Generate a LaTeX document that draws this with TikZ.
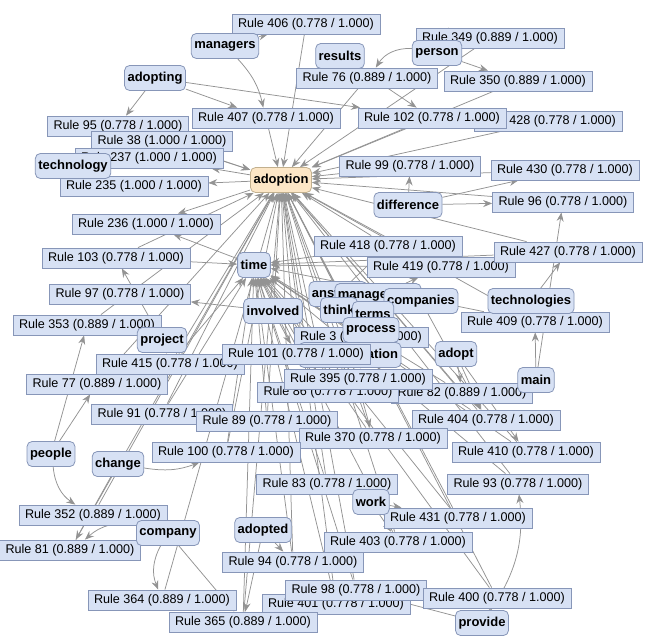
\documentclass[tikz,border=0pt]{standalone}
\usepackage{fontspec}
\setmainfont{Liberation Sans}
\usetikzlibrary{arrows.meta}
\pgfdeclarelayer{edges}
\pgfdeclarelayer{paper}
\pgfsetlayers{paper,edges,main}
\definecolor{rfill}{HTML}{D7E1F4}
\definecolor{rdraw}{HTML}{8796B8}
\definecolor{afill}{HTML}{FCE6C6}
\definecolor{adraw}{HTML}{C2B08E}
\definecolor{ecol}{HTML}{939393}
\tikzset{
 rulebox/.style={draw=rdraw, fill=rfill, line width=0.8pt, inner xsep=6pt, inner ysep=0pt, minimum height=20pt, font=\fontsize{12.6}{14}\selectfont},
 wordbox/.style={draw=rdraw, fill=rfill, rounded corners=5pt, line width=0.8pt, inner xsep=3pt, inner ysep=0pt, minimum height=25pt, font=\fontsize{13}{15}\selectfont\bfseries},
 hubbox/.style={wordbox, draw=adraw, fill=afill},
 edge/.style={draw=ecol, line width=0.75pt, -{Stealth[length=9pt,width=7pt,inset=3pt]}},
}
\newcommand\rulenode[4]{\node[rulebox] (r#1) at (#2,#3) {Rule #1 (#4 / 1.000)};}
\begin{document}
\begin{tikzpicture}[x=1pt,y=-1pt]
\begin{pgfonlayer}{paper}
\fill[white] (0,0) rectangle (647,644);
\end{pgfonlayer}
\useasboundingbox (0,0) rectangle (647,644);
% rule nodes
\rulenode{406}{306}{24}{0.778}
\rulenode{349}{490}{38}{0.889}
\rulenode{76}{367}{78}{0.889}
\rulenode{350}{518}{81}{0.889}
\rulenode{407}{266}{118}{0.778}
\rulenode{428}{548}{121}{0.778}
\rulenode{102}{432}{118}{0.778}
\rulenode{95}{118}{126}{0.778}
\rulenode{38}{162}{141}{1.000}
\rulenode{237}{149}{158}{1.000}
\rulenode{235}{134}{186}{1.000}
\rulenode{99}{410}{166}{0.778}
\rulenode{430}{565}{170}{0.778}
\rulenode{96}{563}{202}{0.778}
\rulenode{236}{146}{224}{1.000}
\rulenode{103}{116}{258}{0.778}
\rulenode{418}{388}{246}{0.778}
\rulenode{419}{441}{267}{0.778}
\rulenode{427}{568}{252}{0.778}
\rulenode{97}{120}{294}{0.778}
\rulenode{353}{87}{325}{0.889}
\rulenode{409}{535}{322}{0.778}
\rulenode{3}{361}{337}{0.778}
\rulenode{415}{170}{364}{0.778}
\rulenode{77}{97}{384}{0.889}
\rulenode{82}{462}{393}{0.889}
\rulenode{86}{328}{392}{0.778}
\rulenode{395}{358}{379}{0.778}
\rulenode{91}{162}{414}{0.778}
\rulenode{89}{267}{421}{0.778}
\rulenode{404}{486}{420}{0.778}
\rulenode{370}{373}{438}{0.778}
\rulenode{410}{526}{452}{0.778}
\rulenode{100}{226}{452}{0.778}
\rulenode{83}{327}{484}{0.778}
\rulenode{93}{518}{484}{0.778}
\rulenode{431}{458}{518}{0.778}
\rulenode{352}{93}{515}{0.889}
\rulenode{81}{70}{550}{0.889}
\rulenode{403}{398}{542}{0.778}
\rulenode{94}{293}{562}{0.778}
\rulenode{364}{162}{600}{0.889}
\rulenode{401}{336}{604}{0.778}
\rulenode{98}{356}{590}{0.778}
\rulenode{400}{497}{598}{0.778}
\rulenode{365}{243}{622}{0.889}
% word nodes
\node[wordbox] (managers) at (225,46) {managers};
\node[wordbox] (results) at (340,56) {results};
\node[wordbox] (person) at (437,53) {person};
\node[wordbox] (adopting) at (155,78) {adopting};
\node[wordbox] (technology) at (73,166) {technology};
\node[hubbox] (adoption) at (281,180) {adoption};
\node[wordbox] (difference) at (408,205) {difference};
\node[wordbox] (time) at (254,265) {time};
\node[wordbox] (answers) at (338,294) {answers};
\node[wordbox] (management) at (378,296) {management};
\node[wordbox] (companies) at (421,301) {companies};
\node[wordbox] (technologies) at (531,301) {technologies};
\node[wordbox] (think) at (339,310) {think};
\node[wordbox] (terms) at (373,314) {terms};
\node[wordbox] (involved) at (273,311) {involved};
\node[wordbox] (project) at (162,340) {project};
\node[wordbox] (process) at (371,330) {process};
\node[wordbox] (implementation) at (350,355) {implementation};
\rulenode{101}{296}{354}{0.778}
\node[wordbox] (adopt) at (456,354) {adopt};
\node[wordbox] (main) at (536,380) {main};
\node[wordbox] (people) at (51,454) {people};
\node[wordbox] (change) at (118,464) {change};
\node[wordbox] (company) at (168,533) {company};
\node[wordbox] (adopted) at (263,530) {adopted};
\node[wordbox] (work) at (371,502) {work};
\node[wordbox] (provide) at (482,623) {provide};
% edges
\begin{pgfonlayer}{edges}
\foreach \r in {406,407,76,102,428,349,350,99,430,96,418,419,427,3,409,101,395,86,82,89,404,370,410,100,83,93,431,403,94,98,401,400,365,364,91,415,77,353,352,81,103,95,38}
  \draw[edge] (r\r) -- (adoption);
\foreach \r in {418,419,3,101,395,86,82,89,404,370,100,83,431,403,94,98,401,365,415,91,410,93,400,427,409,103}
  \draw[edge] (r\r) -- (time);
\foreach \a/\b in {adoption/r235,adoption/r237,adoption/r236,time/r236,involved/r97,
  managers/r406,adopting/r95,adopting/r407,adopting/r102,results/r102,
  difference/r99,difference/r430,difference/r96,technology/r237,technology/r38,
  technologies/r427,main/r409,main/r96,people/r353,people/r77,change/r81,
  project/r103,project/r415,company/r365,adopted/r94,adopted/r365,
  work/r403,work/r431,provide/r400,provide/r98,adopt/r82,adopt/r404,adopt/r410,
  involved/r101,answers/r418,management/r419,think/r3,terms/r395,process/r86,
  companies/r404,implementation/r370,person/r350}
  \draw[edge] (\a) -- (\b);
\draw[edge] (managers) to[bend left=15] (r407);
\draw[edge] (person) to[bend right=30] (r76);
\draw[edge] (person) to[bend left=30] (r349);
\draw[edge] (people) to[bend right=25] (r352);
\draw[edge] (change) to[bend right=15] (r100);
\draw[edge] (company) to[bend right=25] (r81);
\draw[edge] (company) to[bend right=25] (r364);
\draw[edge] (provide) to[bend right=20] (r93);
\end{pgfonlayer}
\end{tikzpicture}
\end{document}
